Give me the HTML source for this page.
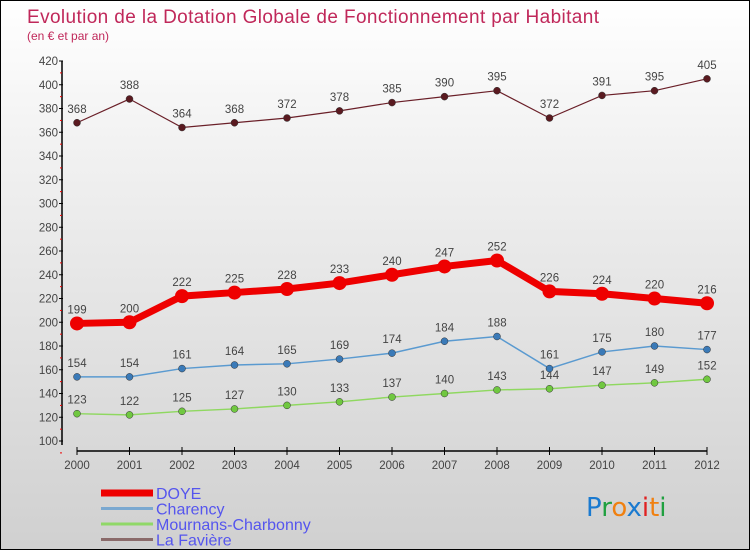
<!DOCTYPE html>
<html><head><meta charset="utf-8"><style>
body{margin:0}
#c{width:750px;height:550px;position:relative;box-sizing:border-box;border:1px solid #000;background:linear-gradient(#fff,#f0f0f0 30%,#d0d0d0);font-family:"Liberation Sans",sans-serif;overflow:hidden}
</style></head><body>
<div id="c">
<svg id="s" width="750" height="550" style="position:absolute;left:0;top:0">
<text x="26" y="22" font-size="19" fill="#c0285a" textLength="572">Evolution de la Dotation Globale de Fonctionnement par Habitant</text>
<text x="26" y="39" font-size="12" fill="#c0285a">(en € et par an)</text>
<g id="g"></g>
</svg>
</div>
<script>
const years=[2000,2001,2002,2003,2004,2005,2006,2007,2008,2009,2010,2011,2012];
const doye=[199,200,222,225,228,233,240,247,252,226,224,220,216];
const charency=[154,154,161,164,165,169,174,184,188,161,175,180,177];
const mournans=[123,122,125,127,130,133,137,140,143,144,147,149,152];
const faviere=[368,388,364,368,372,378,385,390,395,372,391,395,405];
const yTicks=[100,120,140,160,180,200,220,240,260,280,300,320,340,360,380,400,420];
const names=["DOYE","Charency","Mournans-Charbonny","La Favière"];
const NS="http://www.w3.org/2000/svg";
const g=document.getElementById('g');
const X=i=>76+i*52.5, Y=v=>440-(v-100)*1.1875;
function el(t,a,p){const e=document.createElementNS(NS,t);for(const k in a)e.setAttribute(k,a[k]);(p||g).appendChild(e);return e;}
function tx(x,y,s,a,sz,c){const e=el('text',{x:x,y:y,'text-anchor':a,'font-size':sz||12,fill:c||'#444'});e.textContent=s;return e;}
let e=el('line',{x1:61,y1:Y(420),x2:61,y2:444,stroke:'#000','stroke-width':1.5});

e=el('line',{x1:76,y1:450,x2:706,y2:450,stroke:'#000','stroke-width':1.5});

yTicks.forEach((v,i)=>{el('line',{x1:58,y1:Y(v),x2:62,y2:Y(v),stroke:'#000'});
 el('line',{x1:59,y1:Y(v)+11.9,x2:61,y2:Y(v)+11.9,stroke:'#e00'});
 const t=tx(57,Y(v)+4,v,'end',11.5,'#444');});
years.forEach((y,i)=>{el('line',{x1:X(i),y1:446,x2:X(i),y2:454,stroke:'#000'});
 const t=tx(X(i),468,y,'middle',11.5,'#444');});
const series=[[faviere,'#6a1f28',1.2,3.5,'#5a1a20','faviere'],[mournans,'#8fd860',1.5,3.5,'#70c840','mournans'],[charency,'#5a9ad0',1.5,3.5,'#3a7ab8','charency'],[doye,'#ee0000',7,7,'#ee0000','doye']];
series.forEach(([d,c,w,r,fc,n])=>{
 const p=el('polyline',{points:d.map((v,i)=>X(i)+','+Y(v)).join(' '),fill:'none',stroke:c,'stroke-width':w});
 
 d.forEach((v,i)=>{const m=el('circle',{cx:X(i),cy:Y(v),r:r,fill:fc,stroke:n=='doye'?'none':'#333','stroke-width':0.5});
  
  const t=tx(X(i),Y(v)-10,v,'middle',11.5,'#444');});
});
const lc=['#ee0000','#7aa8d0','#90d868','#8a6a6a'],lw=[7,3,3,3];
names.forEach((n,i)=>{const y=492+i*15.5;
 const l=el('line',{x1:100,y1:y,x2:152,y2:y,stroke:lc[i],'stroke-width':lw[i]});
 
 const t=tx(155,y+6,n,'start',16,'#5555ee');});
const lg=el('text',{x:585,y:515,'font-size':26,'font-family':'DejaVu Sans'});

['P','r','o','x','i','t','i'].forEach((ch,i)=>{const s=el('tspan',{fill:['#1a7ad0','#20a040','#f08010','#1a7ad0','#e02020','#f08010','#20a040'][i]},lg);s.textContent=ch;});
</script>
</body></html>
